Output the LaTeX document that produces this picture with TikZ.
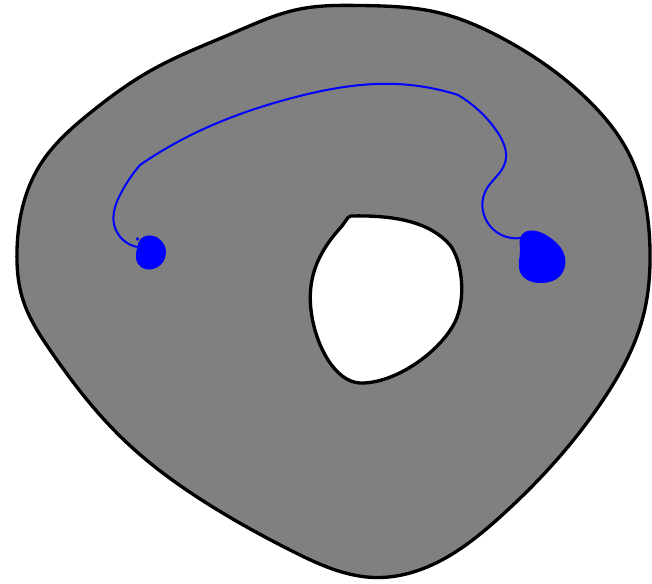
\documentclass[tikz,border=0pt]{standalone}
\usetikzlibrary{hobby}
\begin{document}
\begin{tikzpicture}[x=0.75pt,y=-0.75pt,use Hobby shortcut,
  region/.style={fill=gray,draw=black,line width=2.5pt},
  holestyle/.style={fill=white,draw=black,line width=2.5pt},
  pathstyle/.style={draw=blue,line width=1.5pt,line cap=round},
  blob/.style={fill=blue}]
\useasboundingbox (0,0) rectangle (652,584);
% outer region
\path[region,closed=true] (17,250) .. (23,300) .. (50,350) .. (125,441) .. (208,504)
 .. (292,551) .. (375,577.5) .. (440,561) .. (500,517) .. (603,400) .. (643,317)
 .. (650,250) .. (627,150) .. (588,100) .. (500,37) .. (440,13) .. (360,5.5)
 .. (300,9) .. (233,33) .. (150,71) .. (90,113) .. (40,165);
% hole
\path[holestyle] (351,216) .. controls (395,215) and (430,222) .. (450,245)
 .. controls (463,262) and (466,300) .. (455,322)
 .. controls (440,352) and (395,384) .. (360,383)
 .. controls (335,382) and (315,345) .. (311,310)
 .. controls (307,275) and (320,250) .. (342,226)
 -- (348,217.5) .. controls (349,216.3) .. cycle;
% blue curve
\path[pathstyle] (137.5,247) .. (114,224) .. (121,193) .. (140,165);
\path[pathstyle] (140,165) .. (187,137) .. (292,98) .. (396,84) .. (458,95);
\path[pathstyle] (458,95) .. (496,130) .. (505,163) .. (486,190) .. (490,226) .. (521,238);
% blobs
\path[blob,closed=true] (140,240) .. (160,239.5) .. (166,253) .. (156,268) .. (138,264) .. (137,248);
\fill[blue] (137.5,239) circle (1.8);
\path[blob,closed=true] (521,236) .. (546,235) .. (564,254) .. (559,277) .. (542,283)
 .. (520,272) .. (520,250);
\end{tikzpicture}
\end{document}
